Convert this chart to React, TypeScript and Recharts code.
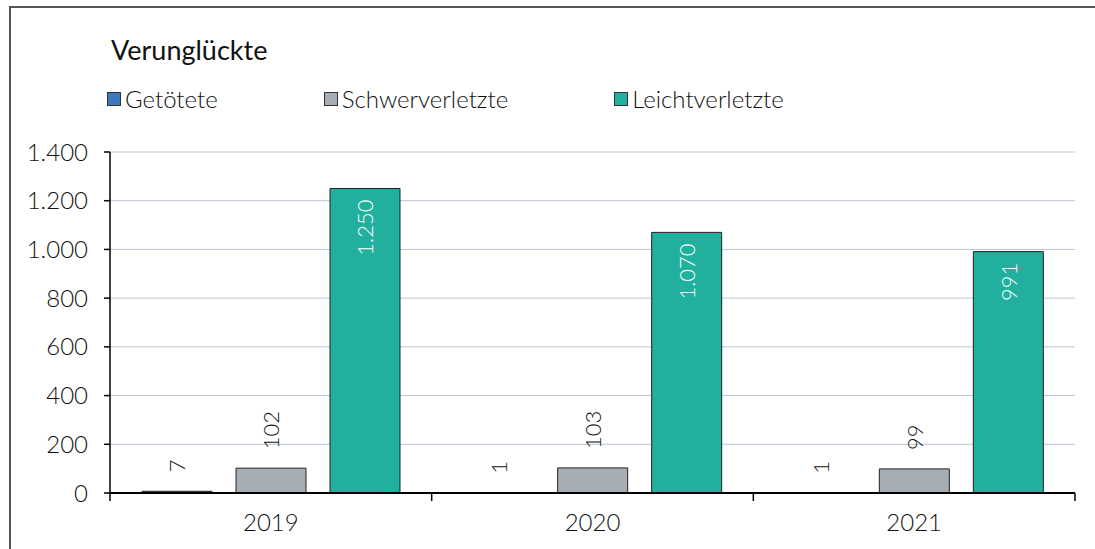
import React from 'react'
import { BarChart, Bar, XAxis, YAxis, CartesianGrid, LabelList } from 'recharts'

const years = ['2019', '2020', '2021']
const getoetete = [7, 1, 1]
const schwerverletzte = [102, 103, 99]
const leichtverletzte = [1250, 1070, 991]
const yTicks = [0, 200, 400, 600, 800, 1000, 1200, 1400]

const series = [
  { key: 'getoetete', name: 'Getötete', color: '#3c78bd' },
  { key: 'schwer', name: 'Schwerverletzte', color: '#a7adb5' },
  { key: 'leicht', name: 'Leichtverletzte', color: '#22b09e' },
]

const data = years.map((year, i) => ({
  year,
  getoetete: getoetete[i],
  schwer: schwerverletzte[i],
  leicht: leichtverletzte[i],
}))

const W = 1095
const H = 549
const margin = { top: 152, right: 20, bottom: 0, left: 0 }
const yAxisWidth = 110
const halfBand = (W - margin.right - yAxisWidth) / years.length / 2
const font = 'Lato, "Noto Sans", sans-serif'

const fmt = (v: number) => String(v).replace(/\B(?=(\d{3})+(?!\d))/g, '.')

const makeLabel = (inside: boolean) => (props: any) => {
  const { x, y, width, value } = props
  const cx = x + width / 2
  const ty = inside ? y + 11 : y - 19
  return (
    <text
      x={cx}
      y={ty}
      transform={`rotate(-90 ${cx} ${ty})`}
      textAnchor={inside ? 'end' : 'start'}
      dominantBaseline="central"
      fill={inside ? '#ffffff' : '#111'}
      fontSize={22}
      fontWeight={300}
      fontFamily={font}
    >
      {fmt(value)}
    </text>
  )
}

const XTick = (props: any) => {
  const { x, y, payload, index } = props
  return (
    <g>
      <line x1={x - halfBand} x2={x - halfBand} y1={y} y2={y + 8} stroke="#000" strokeWidth={1.5} />
      {index === years.length - 1 && (
        <line x1={x + halfBand} x2={x + halfBand} y1={y} y2={y + 8} stroke="#000" strokeWidth={1.5} />
      )}
      <text x={x} y={y + 38} textAnchor="middle" fill="#111" fontSize={24} fontWeight={300} fontFamily={font}>
        {payload.value}
      </text>
    </g>
  )
}

export default function App() {
  return (
    <div style={{ position: 'absolute', left: 0, top: 0, width: W, height: H, background: '#fff', overflow: 'hidden', fontFamily: font }}>
      <div style={{ position: 'absolute', left: 9, top: 6, width: W, height: H, borderTop: '2px solid #555', borderLeft: '2px solid #555' }} />
      <div style={{ position: 'absolute', left: 111, top: 32, fontSize: 27, fontWeight: 400, color: '#111', lineHeight: '36px' }}>Verunglückte</div>
      <div style={{ position: 'absolute', left: 107, top: 84, display: 'flex', fontSize: 24, fontWeight: 300, color: '#111', lineHeight: '30px' }}>
        {series.map((s) => (
          <div key={s.key} style={{ display: 'flex', alignItems: 'center', marginRight: 106 }}>
            <span style={{ width: 12, height: 12, background: s.color, border: '1px solid #333', marginRight: 4 }} />
            <span>{s.name}</span>
          </div>
        ))}
      </div>
      <div style={{ position: 'absolute', left: 0, top: 0 }}>
        <BarChart width={W} height={H} data={data} margin={margin} barSize={70} barGap={24}>
          <CartesianGrid vertical={false} stroke="#b9c5d1" />
          <YAxis
            width={yAxisWidth}
            domain={[0, 1400]}
            ticks={yTicks}
            tickFormatter={fmt}
            axisLine={{ stroke: '#000', strokeWidth: 1.5 }}
            tickLine={{ stroke: '#000', strokeWidth: 1.5 }}
            tickSize={6}
            tickMargin={16}
            tick={{ fill: '#111', fontSize: 24, fontWeight: 300, fontFamily: font }}
          />
          <XAxis
            dataKey="year"
            height={56}
            axisLine={{ stroke: '#000', strokeWidth: 2 }}
            tickLine={false}
            tickSize={0}
            tickMargin={0}
            tick={<XTick />}
            interval={0}
          />
          {series.map((s) => (
            <Bar key={s.key} dataKey={s.key} name={s.name} fill={s.color} stroke="#222" strokeWidth={1} isAnimationActive={false}>
              <LabelList dataKey={s.key} content={makeLabel(s.key === 'leicht')} />
            </Bar>
          ))}
        </BarChart>
      </div>
    </div>
  )
}
